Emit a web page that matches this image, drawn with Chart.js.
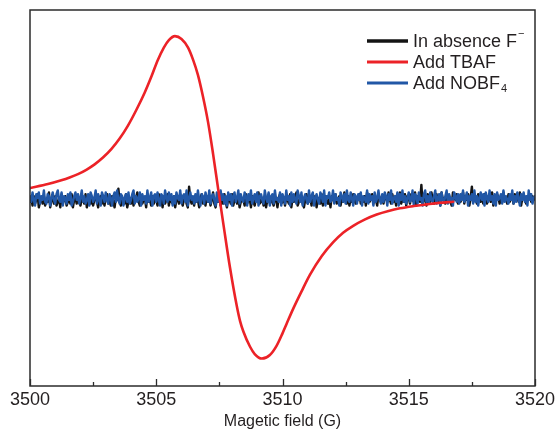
<!DOCTYPE html>
<html><head><meta charset="utf-8">
<script src="https://cdn.jsdelivr.net/npm/chart.js@4.4.0/dist/chart.umd.min.js"></script>
<style>html,body{margin:0;padding:0;background:#fff}#wrap{width:557px;height:432px}</style>
</head><body><div id="wrap"><canvas id="c" width="557" height="432"></canvas></div>
<script>
// ---- data ----
const seriesNames = ['In absence F⁻', 'Add TBAF', 'Add NOBF₄'];
const seriesColors = ['#141414', '#ec2227', '#2157a6'];
const xTicks = [3500, 3505, 3510, 3515, 3520];
const xMinorTicks = [3502.5, 3507.5, 3512.5, 3517.5];
const axisTitle = 'Magetic field (G)';

// Add TBAF (derivative EPR line), a.u.
const tbafField = [3500.00, 3500.71, 3501.24, 3501.57, 3501.90, 3502.23, 3502.56, 3502.89, 3503.22, 3503.55,
  3503.88, 3504.21, 3504.54, 3504.82, 3505.05, 3505.30, 3505.50, 3505.74, 3506.00, 3506.26,
  3506.46, 3506.65, 3506.85, 3507.05, 3507.25, 3507.45, 3507.66, 3507.92, 3508.19, 3508.32,
  3508.45, 3508.71, 3508.90, 3509.18, 3509.50, 3509.77, 3510.00, 3510.16, 3510.43, 3510.76,
  3511.09, 3511.55, 3512.01, 3512.40, 3512.80, 3513.25, 3513.73, 3514.20, 3514.65, 3515.20,
  3515.71, 3516.20, 3516.76];
const tbafSignal = [5.3, 7.4, 9.4, 10.9, 12.7, 15.0, 17.9, 21.5, 26.0, 31.6,
  38.5, 46.8, 56.0, 65.0, 73.0, 80.0, 84.0, 86.1, 84.6, 80.0,
  73.5, 65.5, 54.0, 40.5, 23.5, 5.0, -14.0, -37.0, -57.5, -65.5,
  -71.0, -79.0, -83.0, -85.4, -83.5, -78.5, -72.0, -67.0, -58.7, -49.5,
  -40.8, -31.0, -23.5, -18.5, -14.8, -11.5, -8.8, -6.9, -5.5, -4.3,
  -3.4, -2.6, -2.0];

// noise traces sampled every 0.05 G from 3500 G
const noiseStart = 3500, noiseStep = 0.05;
const absenceSignal = [
  -2,0,-4,1,-3,-1,2,-5,-2,0,-3,1,-4,-1,-2,3,-5,-1,0,-3,
  1,-4,-2,0,-5,2,-3,-1,1,-4,-2,0,-3,2,-5,-1,0,-3,1,-2,
  -4,0,-1,-3,2,-5,-2,1,-3,0,-4,-1,2,-2,-5,0,1,-3,-1,-4,
  0,2,-3,-1,-4,1,-2,-5,0,-1,5,-2,-4,0,-1,-3,2,-5,-2,0,
  -3,1,-4,-1,0,3,-2,-4,1,-3,-1,0,-5,2,-2,-1,-4,1,-3,0,
  -1,-4,2,-2,0,-5,1,-3,-1,2,-4,0,-2,-3,1,-5,-1,0,-3,2,
  -2,-4,0,1,-3,-5,6,-1,-3,0,-4,1,-2,-1,-5,0,2,-3,-1,-4,
  1,-2,0,-4,-1,3,-3,-5,0,-2,1,-4,-1,-3,2,-2,-5,0,-1,-3,
  2,-4,-1,0,-3,1,-5,-2,0,-1,-4,2,-3,-1,0,-5,1,-2,-4,0,
  -1,3,-3,-2,0,-4,1,-5,-1,2,-3,0,-2,-4,1,-1,-5,0,2,-3,
  -2,0,-4,1,-1,-3,2,-5,0,-2,-1,3,-4,-2,0,1,-3,-5,-1,2,
  -3,-1,0,-4,2,-2,1,-5,-1,0,-3,2,-4,-1,1,-2,-3,0,-5,1,
  0,-2,2,-3,-1,1,-4,0,-2,3,-1,-3,1,-4,0,-2,2,-1,-3,0,
  -1,2,-3,0,-2,1,-4,3,-1,-2,0,2,-3,1,-1,-4,2,0,-2,1,
  -3,1,0,-2,3,-1,-3,2,-2,0,-4,1,-1,3,-3,0,-2,2,-4,1,
  0,-3,2,-1,-2,3,-4,1,0,-2,7,-3,1,-1,-4,2,0,-2,3,-1,
  -3,0,2,-2,1,-4,3,-1,0,-3,2,-1,1,-2,-4,3,0,-1,2,-3,
  1,-2,0,3,-3,1,-1,2,-4,0,6,-2,1,-1,-3,2,0,-2,1,-3,
  2,-1,-3,1,0,-2,3,-4,1,-1,2,0,-3,1,-2,3,-1,0,-3,2,
  -2,1,0,-3,2,-1,1,-2,3,-4,0,2,-1,-3,1,0,2,-2,1,-1,
  0];
const nobfSignal = [
  1,-2,3,-1,-4,2,0,3,-3,1,-1,4,-2,-3,2,1,-4,0,3,-1,
  -3,2,4,-1,-2,3,-4,1,0,-3,2,-1,3,-4,-2,1,3,-1,2,-3,
  0,4,-2,1,-3,-1,2,-4,3,1,-2,0,4,-3,2,-1,-4,3,1,-2,
  3,-1,-3,2,0,-4,1,3,-2,4,-1,-3,2,1,-4,0,2,-2,3,-3,
  -1,2,4,-3,1,-2,0,3,-4,2,-1,1,-3,4,-2,0,3,-4,1,2,
  -2,3,-1,-4,2,1,-3,4,0,-2,3,-1,2,-4,1,-3,3,0,-1,4,
  -3,1,2,-2,4,-4,0,3,-1,1,-3,2,-2,4,-1,-4,2,1,-3,3,
  0,-2,4,-3,1,2,-1,-4,3,-2,0,4,-1,2,-3,1,-4,3,-1,2,
  -4,1,3,-2,0,4,-3,2,-1,-2,3,1,-4,2,-1,4,-3,0,2,-2,
  3,-4,1,2,-1,-3,4,0,-2,3,-4,1,2,-3,4,-1,0,-2,3,-4,
  2,0,-3,4,-1,1,-4,3,-2,2,-1,-3,4,1,-2,3,-4,0,2,-1,
  -3,4,-2,1,3,-4,0,2,-1,-3,3,1,-2,4,-4,1,0,3,-2,-1,
  4,-3,2,-1,0,-4,3,1,-2,2,-3,4,-1,-2,3,0,-4,2,1,-3,
  2,-1,3,-4,1,0,-2,4,-3,2,-1,1,-4,3,-2,0,4,-1,-3,2,
  -2,3,1,-4,2,-1,4,-3,0,1,-2,3,-4,2,-1,4,-2,1,-3,0,
  3,-2,-1,4,-4,2,1,-3,3,-1,0,-4,2,4,-2,1,-3,3,-1,-2,
  1,4,-3,0,2,-4,3,-1,-2,1,4,-3,2,-1,0,-4,3,1,-2,2,
  -3,2,-1,4,-2,0,3,-4,1,-1,2,-3,4,-2,1,-4,0,3,-1,2,
  -4,3,0,-2,4,-1,1,-3,2,-4,3,-1,0,2,-3,4,-2,1,-1,-3,
  2,-1,4,-3,1,-2,3,0,-4,2,-1,3,-2,1,-4,4,-1,2,-3,0,
  1];

// ---- build ----
const FONT = '"Liberation Sans", Arial, Helvetica, sans-serif';
const TEXT = '#231f20';
const noisePts = arr => arr.map((v, i) => ({ x: noiseStart + i * noiseStep, y: v }));
const tbafPts = tbafField.map((x, i) => ({ x, y: tbafSignal[i] }));

const framePlugin = {
  id: 'frame',
  afterDraw(chart) {
    const { ctx, chartArea: a, scales: { x } } = chart;
    ctx.save();
    ctx.strokeStyle = '#2b2b2b';
    ctx.lineWidth = 1.5;
    ctx.strokeRect(a.left, a.top, a.right - a.left, a.bottom - a.top);
    ctx.lineWidth = 1.3;
    ctx.beginPath();
    xTicks.forEach(v => { const p = Math.round(x.getPixelForValue(v)) + 0.5; ctx.moveTo(p, a.bottom); ctx.lineTo(p, a.bottom - 7); });
    xMinorTicks.forEach(v => { const p = Math.round(x.getPixelForValue(v)) + 0.5; ctx.moveTo(p, a.bottom); ctx.lineTo(p, a.bottom - 4); });
    ctx.stroke();
    ctx.restore();
  }
};

const legendPlugin = {
  id: 'cornerLegend',
  afterDraw(chart) {
    const { ctx, chartArea: a } = chart;
    ctx.save();
    const x0 = a.right - 168, x1 = a.right - 127, tx = a.right - 122;
    chart.data.datasets.forEach((ds, i) => {
      const y = a.top + 31 + i * 21;
      ctx.strokeStyle = ds.borderColor;
      ctx.lineWidth = i === 0 ? 3.5 : 3;
      ctx.beginPath(); ctx.moveTo(x0, y); ctx.lineTo(x1, y); ctx.stroke();
      let label = ds.label, suffix = '', mode = '';
      if (label.endsWith('⁻')) { suffix = '−'; mode = 'sup'; label = label.slice(0, -1); }
      if (label.endsWith('₄')) { suffix = '4'; mode = 'sub'; label = label.slice(0, -1); }
      ctx.fillStyle = TEXT;
      ctx.textBaseline = 'middle';
      ctx.font = '18px ' + FONT;
      ctx.fillText(label, tx, y + 1);
      const w = ctx.measureText(label).width;
      if (suffix) {
        ctx.font = '11px ' + FONT;
        ctx.fillText(suffix, tx + w + 1, mode === 'sup' ? y - 7 : y + 6);
      }
    });
    ctx.restore();
  }
};

const lineStyle = { pointRadius: 0, borderJoinStyle: 'round', borderCapStyle: 'round' };

new Chart(document.getElementById('c'), {
  type: 'line',
  data: {
    datasets: [
      { label: seriesNames[0], data: noisePts(absenceSignal), borderColor: seriesColors[0], borderWidth: 2.4, tension: 0, order: 2, ...lineStyle },
      { label: seriesNames[1], data: tbafPts, borderColor: seriesColors[1], borderWidth: 2.6, cubicInterpolationMode: 'monotone', order: 0, ...lineStyle },
      { label: seriesNames[2], data: noisePts(nobfSignal), borderColor: seriesColors[2], borderWidth: 2.4, tension: 0, order: 1, ...lineStyle }
    ]
  },
  options: {
    responsive: false,
    animation: false,
    devicePixelRatio: 1,
    layout: { padding: { left: 30, right: 22, top: 10, bottom: 0 } },
    plugins: { legend: { display: false }, tooltip: { enabled: false } },
    scales: {
      x: {
        type: 'linear', min: 3500, max: 3520,
        afterBuildTicks: s => { s.ticks = xTicks.map(v => ({ value: v })); },
        afterFit: s => { s.paddingLeft = 0; s.paddingRight = 0; },
        ticks: { font: { family: FONT, size: 18, lineHeight: 1 }, color: TEXT, padding: 5, maxRotation: 0, autoSkip: false, callback: v => String(v) },
        grid: { display: false, drawTicks: false },
        border: { display: false },
        title: { display: true, text: axisTitle, font: { family: FONT, size: 16, lineHeight: 1 }, color: TEXT, padding: { top: 0, bottom: 2 } }
      },
      y: { display: false, min: -100, max: 100 }
    }
  },
  plugins: [framePlugin, legendPlugin]
});
</script>
</body></html>
